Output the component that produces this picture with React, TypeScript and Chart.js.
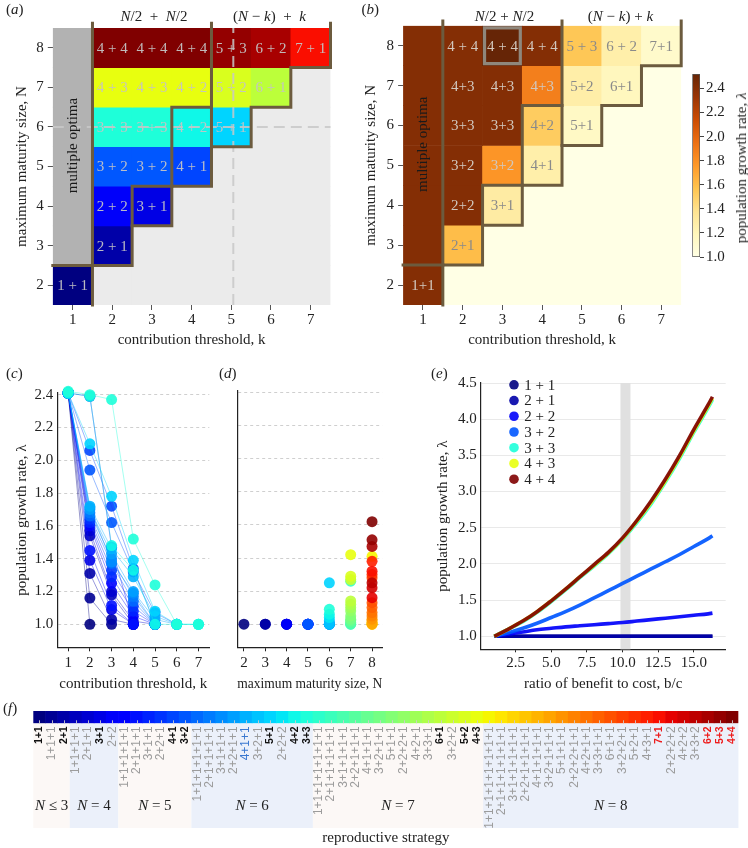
import React, { useEffect, useRef } from 'react';
import { Chart, registerables } from 'chart.js';

Chart.register(...registerables);

const SERIF = "'Liberation Serif', 'Times New Roman', Times, serif";
const SANS = "'Liberation Sans', Arial, Helvetica, sans-serif";
Chart.defaults.font.family = SERIF;
Chart.defaults.color = '#222';

// ---------------- data ----------------
const K_VALUES = [1, 2, 3, 4, 5, 6, 7];
const N_ROWS = [8, 7, 6, 5, 4, 3, 2]; // heatmap rows, top to bottom
const N_TICKS = [2, 3, 4, 5, 6, 7, 8];

const STRATEGIES = [
  '1+1', '1+1+1', '2+1',
  '1+1+1+1', '2+1+1', '3+1', '2+2',
  '1+1+1+1+1', '2+1+1+1', '3+1+1', '2+2+1', '4+1', '3+2',
  '1+1+1+1+1+1', '2+1+1+1+1', '3+1+1+1', '2+2+1+1', '4+1+1', '3+2+1', '5+1', '2+2+2', '4+2', '3+3',
  '1+1+1+1+1+1+1', '2+1+1+1+1+1', '3+1+1+1+1', '2+2+1+1+1', '4+1+1+1', '3+2+1+1', '5+1+1', '2+2+2+1', '4+2+1', '3+3+1', '6+1', '3+2+2', '5+2', '4+3',
  '1+1+1+1+1+1+1+1', '2+1+1+1+1+1+1', '3+1+1+1+1+1', '2+2+1+1+1+1', '4+1+1+1+1', '3+2+1+1+1', '5+1+1+1', '2+2+2+1+1', '4+2+1+1', '3+3+1+1', '6+1+1', '3+2+2+1', '5+2+1', '4+3+1', '7+1', '2+2+2+2', '4+2+2', '3+3+2', '6+2', '5+3', '4+4',
];
const BLACK_LABELS = ['1+1', '2+1', '3+1', '4+1', '3+2', '5+1', '4+2', '3+3', '6+1', '5+2', '4+3'];
const RED_LABELS = ['7+1', '6+2', '5+3', '4+4'];
const BLUE_LABELS = ['4+1+1'];
const GROUP_NAMES = ['≤ 3', '= 4', '= 5', '= 6', '= 7', '= 8'];
const GROUP_SIZES = [3, 4, 6, 10, 14, 21];

// panel (a): strategy used for colour, and the text shown ('M' = multiple optima)
const A_STRATEGY = [
  ['M', '4+4', '4+4', '4+4', '5+3', '6+2', '7+1'],
  ['M', '4+3', '4+3', '4+3', '5+2', '6+1', ''],
  ['M', '3+3', '3+3', '4+2', '5+1', '', ''],
  ['M', '3+2', '3+2', '4+1', '', '', ''],
  ['M', '2+2', '3+1', '', '', '', ''],
  ['M', '2+1', '', '', '', '', ''],
  ['1+1', '', '', '', '', '', ''],
];
const A_LABELS = [
  ['', '4 + 4', '4 + 4', '4 + 4', '5 + 3', '6 + 2', '7 + 1'],
  ['', '4 + 3', '4 + 3', '4 + 2', '5 + 2', '6 + 1', ''],
  ['', '3 + 3', '3 + 3', '4 + 2', '5 + 1', '', ''],
  ['', '3 + 2', '3 + 2', '4 + 1', '', '', ''],
  ['', '2 + 2', '3 + 1', '', '', '', ''],
  ['', '2 + 1', '', '', '', '', ''],
  ['1 + 1', '', '', '', '', '', ''],
];
// panel (b): growth rate per cell
const B_LAMBDA = [
  [2.41, 2.41, 2.52, 2.41, 1.55, 1.27, 1.12],
  [2.41, 2.41, 2.41, 1.88, 1.28, 1.18, 1.0],
  [2.41, 2.41, 2.41, 1.52, 1.15, 1.0, 1.0],
  [2.41, 2.41, 1.78, 1.27, 1.0, 1.0, 1.0],
  [2.41, 2.41, 1.3, 1.0, 1.0, 1.0, 1.0],
  [2.41, 1.6, 1.0, 1.0, 1.0, 1.0, 1.0],
  [2.41, 1.0, 1.0, 1.0, 1.0, 1.0, 1.0],
];
const B_LABELS = [
  ['', '4 + 4', '4 + 4', '4 + 4', '5 + 3', '6 + 2', '7+1'],
  ['', '4+3', '4+3', '4+3', '5+2', '6+1', ''],
  ['', '3+3', '3+3', '4+2', '5+1', '', ''],
  ['', '3+2', '3+2', '4+1', '', '', ''],
  ['', '2+2', '3+1', '', '', '', ''],
  ['', '2+1', '', '', '', '', ''],
  ['1+1', '', '', '', '', '', ''],
];
const LAM_MIN = 1.0;
const LAM_MAX = 2.52;
const CB_TICKS = [1.0, 1.2, 1.4, 1.6, 1.8, 2.0, 2.2, 2.4];
const MULTI_CENTER_N = 5.53;

// region outlines (data coordinates k, N)
const OUTLINES = [
  [[0.5, 2.5], [1.5, 2.5]],
  [[1.5, 8.62], [1.5, 1.5]],
  [[1.5, 2.5], [2.5, 2.5], [2.5, 4.5], [3.5, 4.5], [3.5, 6.5], [4.5, 6.5], [4.5, 8.62]],
  [[2.5, 3.5], [3.5, 3.5], [3.5, 4.5]],
  [[3.5, 4.5], [4.5, 4.5], [4.5, 6.5]],
  [[4.5, 5.5], [5.5, 5.5], [5.5, 6.5], [6.5, 6.5], [6.5, 7.5], [7.5, 7.5], [7.5, 8.62]],
];
const A_DASHES = [
  [[5.05, 1.5], [5.05, 8.5]],
  [[0.5, 6.0], [7.5, 6.0]],
];
const B_HIGHLIGHT = [[2.55, 7.55], [3.45, 7.55], [3.45, 8.45], [2.55, 8.45], [2.55, 7.55]];

// panel (c): growth rate vs contribution threshold for strategies (strategy index, values at k = 1..)
const C_SERIES = [
  { s: 0, lam: [2.41, 1.0] },
  { s: 1, lam: [2.41, 1.16, 1.0] },
  { s: 2, lam: [2.41, 1.31, 1.03, 1.0] },
  { s: 3, lam: [2.41, 1.54, 1.18, 1.0] },
  { s: 4, lam: [2.41, 1.57, 1.2, 1.02, 1.0] },
  { s: 5, lam: [2.41, 1.39, 1.09, 1.0] },
  { s: 6, lam: [2.41, 2.39, 1.47, 1.0] },
  { s: 7, lam: [2.41, 1.6, 1.25, 1.05, 1.0] },
  { s: 8, lam: [2.41, 1.45, 1.115, 1.0] },
  { s: 9, lam: [2.41, 1.62, 1.29, 1.08, 1.0] },
  { s: 10, lam: [2.41, 1.64, 1.33, 1.11, 1.0] },
  { s: 11, lam: [2.41, 2.06, 1.72, 1.34, 1.0] },
  { s: 12, lam: [2.41, 1.94, 1.62, 1.32, 1.07, 1.0] },
  { s: 13, lam: [2.41, 1.66, 1.37, 1.14, 1.0] },
  { s: 14, lam: [2.41, 1.68, 1.4, 1.17, 1.0] },
  { s: 15, lam: [2.41, 1.71, 1.38, 1.19, 1.0] },
  { s: 16, lam: [2.41, 1.7, 1.43, 1.2, 1.03, 1.0] },
  { s: 17, lam: [2.41, 1.72, 1.46, 1.29, 1.05, 1.0] },
  { s: 19, lam: [2.41, 2.1, 1.78, 1.39, 1.08, 1.0, 1.0] },
  { s: 21, lam: [2.41, 2.39, 1.48, 1.33, 1.0, 1.0, 1.0] },
  { s: 22, lam: [2.42, 2.4, 2.37, 1.52, 1.24, 1.0, 1.0] },
];
const C_Y_TICKS = [1.0, 1.2, 1.4, 1.6, 1.8, 2.0, 2.2, 2.4];

// panel (d): growth rate of each strategy (same order as STRATEGIES)
const D_LAMBDA = [
  1.0, 1.0, 1.0,
  1.0, 1.0, 1.0, 1.0,
  1.0, 1.0, 1.0, 1.0, 1.0, 1.0,
  1.0, 1.0, 1.0, 1.0, 1.02, 1.0, 1.25, 1.04, 1.06, 1.09,
  1.0, 1.26, 1.0, 1.01, 1.02, 1.03, 1.05, 1.08, 1.1, 1.12, 1.14, 1.27, 1.29, 1.42,
  1.41, 1.0, 1.0, 1.01, 1.02, 1.0, 1.03, 1.05, 1.07, 1.1, 1.13, 1.28, 1.3, 1.38, 1.32, 1.16, 1.22, 1.25, 1.47, 1.51, 1.62,
];
const D_X_TICKS = [2, 3, 4, 5, 6, 7, 8];

// panel (e): growth rate vs benefit/cost ratio
const E_BC = [1, 2, 3, 4, 5, 6, 7, 8, 9, 10, 11, 12, 13, 14, 15, 16, 16.3];
const E_11 = [1, 1, 1, 1, 1, 1, 1, 1, 1, 1, 1, 1, 1, 1, 1, 1, 1];
const E_21 = [1, 1, 1, 1, 1, 1, 1, 1, 1, 1, 1, 1, 1, 1, 1, 1, 1];
const E_22 = [1.0, 1.03, 1.06, 1.09, 1.11, 1.13, 1.145, 1.16, 1.175, 1.19, 1.21, 1.23, 1.25, 1.27, 1.29, 1.31, 1.32];
const E_32 = [1.0, 1.05, 1.11, 1.18, 1.26, 1.34, 1.43, 1.53, 1.63, 1.73, 1.83, 1.93, 2.03, 2.13, 2.24, 2.35, 2.39];
const E_33 = [1.0, 1.1, 1.2, 1.33, 1.48, 1.64, 1.81, 1.97, 2.14, 2.34, 2.57, 2.83, 3.13, 3.46, 3.82, 4.16, 4.27];
const E_43 = [1.0, 1.1, 1.21, 1.34, 1.49, 1.65, 1.82, 1.98, 2.15, 2.35, 2.59, 2.85, 3.15, 3.48, 3.84, 4.18, 4.29];
const E_44 = [1.0, 1.1, 1.21, 1.34, 1.49, 1.65, 1.82, 1.99, 2.16, 2.36, 2.6, 2.87, 3.17, 3.5, 3.86, 4.2, 4.31];
const E_SERIES = [
  { label: '1 + 1', s: '1+1', values: E_11 },
  { label: '2 + 1', s: '2+1', values: E_21 },
  { label: '2 + 2', s: '2+2', values: E_22 },
  { label: '3 + 2', s: '3+2', values: E_32 },
  { label: '3 + 3', s: '3+3', values: E_33 },
  { label: '4 + 3', s: '4+3', values: E_43 },
  { label: '4 + 4', s: '4+4', values: E_44 },
];
const E_X_TICKS = [2.5, 5.0, 7.5, 10.0, 12.5, 15.0];
const E_Y_TICKS = [1.0, 1.5, 2.0, 2.5, 3.0, 3.5, 4.0, 4.5];
const E_BAND = [9.85, 10.55];

// ---------------- colour helpers ----------------
const JET_R = [[0, 0], [0.35, 0], [0.66, 1], [0.89, 1], [1, 0.5]];
const JET_G = [[0, 0], [0.125, 0], [0.375, 1], [0.64, 1], [0.91, 0], [1, 0]];
const JET_B = [[0, 0.5], [0.11, 1], [0.34, 1], [0.65, 0], [1, 0]];
function interp(pts: number[][], t: number) {
  for (let i = 1; i < pts.length; i++) {
    if (t <= pts[i][0]) {
      const [x0, y0] = pts[i - 1];
      const [x1, y1] = pts[i];
      return y0 + ((y1 - y0) * (t - x0)) / (x1 - x0);
    }
  }
  return pts[pts.length - 1][1];
}
function jet(t: number, a = 1) {
  const r = Math.round(255 * interp(JET_R, t));
  const g = Math.round(255 * interp(JET_G, t));
  const b = Math.round(255 * interp(JET_B, t));
  return `rgba(${r},${g},${b},${a})`;
}
const jetIdx = (i: number, a = 1) => jet(i / (STRATEGIES.length - 1), a);
const jetOf = (s: string, a = 1) => jetIdx(STRATEGIES.indexOf(s), a);

const YLORBR = ['#ffffe5', '#fff7bc', '#fee391', '#fec44f', '#fe9929', '#ec7014', '#cc4c02', '#993404', '#662506'];
function hexRgb(h: string) {
  return [parseInt(h.slice(1, 3), 16), parseInt(h.slice(3, 5), 16), parseInt(h.slice(5, 7), 16)];
}
function ylorbr(lam: number) {
  let t = (lam - LAM_MIN) / (LAM_MAX - LAM_MIN);
  t = Math.max(0, Math.min(1, t));
  const p = t * (YLORBR.length - 1);
  const i = Math.min(Math.floor(p), YLORBR.length - 2);
  const f = p - i;
  const a = hexRgb(YLORBR[i]);
  const b = hexRgb(YLORBR[i + 1]);
  const c = a.map((v, j) => Math.round(v + (b[j] - v) * f));
  return `rgb(${c[0]},${c[1]},${c[2]})`;
}
const sizeOf = (s: string) => s.split('+').reduce((acc, v) => acc + Number(v), 0);

const OUTLINE_COLOR = '#6c5b3e';
const TICK_FONT = { family: SERIF, size: 15 };

// ---------------- chart helpers ----------------
function lineSet(poly: number[][], color: string, width: number, order: number, dash?: number[]) {
  return {
    type: 'line',
    data: poly.map(([x, y]) => ({ x, y })),
    borderColor: color,
    borderWidth: width,
    borderDash: dash || [],
    borderCapStyle: dash ? 'butt' : 'square',
    borderJoinStyle: 'miter',
    pointRadius: 0,
    fill: false,
    tension: 0,
    clip: false,
    order,
  };
}
const fixedTicks = (vals: number[]) => (s: any) => {
  s.ticks = vals.map((v) => ({ value: v }));
};

function heatTextPlugin(labels: string[][], textColor: (r: number, c: number) => string) {
  return {
    id: 'heatText',
    afterDatasetsDraw(chart: any) {
      const { ctx } = chart;
      const xs = chart.scales.x;
      const ys = chart.scales.y;
      ctx.save();
      ctx.font = `15px ${SERIF}`;
      ctx.textAlign = 'center';
      ctx.textBaseline = 'middle';
      labels.forEach((row, r) =>
        row.forEach((txt, c) => {
          if (!txt) return;
          ctx.fillStyle = textColor(r, c);
          ctx.fillText(txt, xs.getPixelForValue(K_VALUES[c]), ys.getPixelForValue(N_ROWS[r]) + 1);
        })
      );
      ctx.fillStyle = '#1a1a1a';
      ctx.translate(xs.getPixelForValue(1), ys.getPixelForValue(MULTI_CENTER_N));
      ctx.rotate(-Math.PI / 2);
      ctx.fillText('multiple optima', 0, 0);
      ctx.restore();
    },
  };
}

function heatmapConfig(p: any) {
  const cellSets = N_ROWS.map((N, r) => ({
    type: 'bar',
    data: K_VALUES.map((k) => ({ x: k, y: [N - 0.5, N + 0.5] })),
    backgroundColor: K_VALUES.map((k, c) => p.colors(r, c)),
    borderWidth: 0,
    grouped: false,
    barPercentage: 1,
    categoryPercentage: 1,
    order: 10,
  }));
  const outlineSets = OUTLINES.map((poly) => lineSet(poly, OUTLINE_COLOR, 3, 0));
  return {
    type: 'bar',
    data: { datasets: [...outlineSets, ...p.extra, ...cellSets] },
    options: {
      responsive: false,
      maintainAspectRatio: false,
      animation: false,
      events: [],
      layout: { padding: p.padding },
      plugins: { legend: { display: false }, tooltip: { enabled: false } },
      scales: {
        x: {
          type: 'linear',
          min: 0.5,
          max: 7.5,
          offset: false,
          afterBuildTicks: fixedTicks(K_VALUES),
          afterFit: (s: any) => {
            s.height = 55;
          },
          ticks: { font: TICK_FONT, color: '#222', padding: 1, callback: (v: any) => String(v) },
          grid: { display: true, drawOnChartArea: false, drawTicks: true, tickLength: 5, color: '#555', offset: false },
          border: { display: false },
          title: { display: true, text: 'contribution threshold, k', font: TICK_FONT, color: '#222', padding: { top: 0, bottom: 11 } },
        },
        y: {
          type: 'linear',
          min: 1.5,
          max: 8.5,
          afterBuildTicks: fixedTicks(N_TICKS),
          afterFit: (s: any) => {
            s.width = p.yWidth;
          },
          ticks: { font: TICK_FONT, color: '#222', padding: 4, callback: (v: any) => String(v) },
          grid: { display: true, drawOnChartArea: false, drawTicks: true, tickLength: 5, color: '#555' },
          border: { display: false },
          title: { display: true, text: 'maximum maturity size, N', font: TICK_FONT, color: '#222', padding: { top: p.yTitlePad, bottom: 0 } },
        },
      },
    },
    plugins: [heatTextPlugin(p.labels, p.textColor)],
  };
}

function configA() {
  return heatmapConfig({
    colors: (r: number, c: number) => {
      const s = A_STRATEGY[r][c];
      if (s === 'M') return '#b2b2b2';
      if (!s) return '#ebebeb';
      return jetOf(s);
    },
    labels: A_LABELS,
    textColor: () => 'rgba(196,196,196,0.95)',
    extra: A_DASHES.map((poly) => lineSet(poly, 'rgba(200,200,200,0.85)', 2, 1, [11, 6])),
    padding: { left: 0, top: 28, right: 43.5, bottom: 0 },
    yWidth: 52.8,
    yTitlePad: 12.7,
  });
}

function configB() {
  return heatmapConfig({
    colors: (r: number, c: number) => ylorbr(B_LAMBDA[r][c]),
    labels: B_LABELS,
    textColor: (r: number, c: number) => (B_LAMBDA[r][c] > 1.7 ? '#d2c8be' : '#8a8a8a'),
    extra: [lineSet(B_HIGHLIGHT, '#8f877c', 3.2, 0)],
    padding: { left: 0, top: 25.8, right: 4.8, bottom: 0 },
    yWidth: 47.1,
    yTitlePad: 6,
  });
}

function configColorbar() {
  return {
    type: 'bar',
    data: {
      labels: ['λ'],
      datasets: [
        {
          data: [[LAM_MIN, LAM_MAX]],
          backgroundColor: (ctx: any) => {
            const chart = ctx.chart;
            const ys = chart.scales && chart.scales.y;
            if (!ys || !chart.chartArea) return YLORBR[0];
            const g = chart.ctx.createLinearGradient(0, ys.getPixelForValue(LAM_MIN), 0, ys.getPixelForValue(LAM_MAX));
            YLORBR.forEach((c, i) => g.addColorStop(i / (YLORBR.length - 1), c));
            return g;
          },
          borderColor: '#555',
          borderWidth: 1,
          borderSkipped: false,
          barPercentage: 1,
          categoryPercentage: 1,
        },
      ],
    },
    options: {
      responsive: false,
      maintainAspectRatio: false,
      animation: false,
      events: [],
      layout: { padding: { left: 8.3, top: 74, right: 0, bottom: 43 } },
      plugins: { legend: { display: false }, tooltip: { enabled: false } },
      scales: {
        x: { display: false },
        y: {
          position: 'right',
          min: LAM_MIN,
          max: LAM_MAX,
          afterBuildTicks: fixedTicks(CB_TICKS),
          afterFit: (s: any) => {
            s.width = 48;
          },
          ticks: { font: TICK_FONT, color: '#222', padding: 2, callback: (v: any) => Number(v).toFixed(1) },
          grid: { display: true, drawOnChartArea: false, drawTicks: true, tickLength: 4, color: '#444' },
          border: { display: false },
        },
      },
    },
  };
}

function configC() {
  return {
    type: 'line',
    data: {
      datasets: C_SERIES.map((ser) => ({
        data: ser.lam.map((v, i) => ({ x: K_VALUES[i], y: v })),
        borderColor: jetIdx(ser.s, 0.45),
        borderWidth: 0.9,
        pointRadius: 5.5,
        pointBackgroundColor: jetIdx(ser.s, 0.9),
        pointBorderWidth: 0,
        fill: false,
        tension: 0,
        clip: false,
        order: -ser.s,
      })),
    },
    options: {
      responsive: false,
      maintainAspectRatio: false,
      animation: false,
      events: [],
      layout: { padding: { left: 0, top: 11, right: 5.7, bottom: 0 } },
      plugins: { legend: { display: false }, tooltip: { enabled: false } },
      scales: {
        x: {
          type: 'linear',
          min: 0.5,
          max: 7.5,
          afterBuildTicks: fixedTicks(K_VALUES),
          afterFit: (s: any) => {
            s.height = 52.7;
          },
          ticks: { font: TICK_FONT, color: '#222', padding: 3, callback: (v: any) => String(v) },
          grid: { display: true, drawOnChartArea: false, drawTicks: true, tickLength: 4, color: '#222' },
          border: { display: true, color: '#222', width: 1.2 },
          title: { display: true, text: 'contribution threshold, k', font: TICK_FONT, color: '#222', padding: { top: 0, bottom: 7 } },
        },
        y: {
          type: 'linear',
          min: 0.86,
          max: 2.41,
          afterBuildTicks: fixedTicks(C_Y_TICKS),
          afterFit: (s: any) => {
            s.width = 57.3;
          },
          ticks: { font: TICK_FONT, color: '#222', padding: 4, callback: (v: any) => Number(v).toFixed(1) },
          grid: { display: true, drawOnChartArea: true, drawTicks: false, color: '#cfcfcf', lineWidth: 1 },
          border: { display: true, color: '#222', width: 1.2, dash: [3, 3] },
          title: { display: true, text: 'population growth rate, λ', font: TICK_FONT, color: '#222', padding: { top: 12.7, bottom: 0 } },
        },
      },
    },
  };
}

function configD() {
  return {
    type: 'scatter',
    data: {
      datasets: [
        {
          data: STRATEGIES.map((s, i) => ({ x: sizeOf(s), y: D_LAMBDA[i] })),
          pointBackgroundColor: STRATEGIES.map((s, i) => jetIdx(i, 0.9)),
          pointBorderWidth: 0,
          pointRadius: 5.5,
          clip: false,
        },
      ],
    },
    options: {
      responsive: false,
      maintainAspectRatio: false,
      animation: false,
      events: [],
      layout: { padding: { left: 0, top: 11, right: 7.7, bottom: 0 } },
      plugins: { legend: { display: false }, tooltip: { enabled: false } },
      scales: {
        x: {
          type: 'linear',
          min: 1.69,
          max: 8.48,
          afterBuildTicks: fixedTicks(D_X_TICKS),
          afterFit: (s: any) => {
            s.height = 52.7;
          },
          ticks: { font: TICK_FONT, color: '#222', padding: 3, callback: (v: any) => String(v) },
          grid: { display: true, drawOnChartArea: false, drawTicks: true, tickLength: 4, color: '#222' },
          border: { display: true, color: '#222', width: 1.2 },
          title: { display: true, text: 'maximum maturity size, N', font: TICK_FONT, color: '#222', padding: { top: 0, bottom: 7 } },
        },
        y: {
          type: 'linear',
          min: 0.86,
          max: 2.41,
          afterBuildTicks: fixedTicks(C_Y_TICKS),
          afterFit: (s: any) => {
            s.width = 22.3;
          },
          ticks: { display: false },
          grid: { display: true, drawOnChartArea: true, drawTicks: false, color: '#cfcfcf', lineWidth: 1 },
          border: { display: true, color: '#222', width: 1.2, dash: [3, 3] },
        },
      },
    },
  };
}

const bandPlugin = {
  id: 'band',
  beforeDatasetsDraw(chart: any) {
    const { ctx, chartArea } = chart;
    const xs = chart.scales.x;
    const x0 = xs.getPixelForValue(E_BAND[0]);
    const x1 = xs.getPixelForValue(E_BAND[1]);
    ctx.save();
    ctx.fillStyle = '#e0e0e0';
    ctx.fillRect(x0, chartArea.top, x1 - x0, chartArea.bottom - chartArea.top);
    ctx.restore();
  },
};
const eLegendPlugin = {
  id: 'eLegend',
  afterDatasetsDraw(chart: any) {
    const { ctx, chartArea } = chart;
    ctx.save();
    ctx.font = `15px ${SERIF}`;
    ctx.textAlign = 'left';
    ctx.textBaseline = 'middle';
    E_SERIES.forEach((ser, i) => {
      const y = chartArea.top + 1.8 + i * 15.73;
      ctx.fillStyle = jetOf(ser.s, 0.9);
      ctx.beginPath();
      ctx.arc(chartArea.left + 33.3, y, 4.8, 0, Math.PI * 2);
      ctx.fill();
      ctx.fillStyle = '#222';
      ctx.fillText(ser.label, chartArea.left + 43.5, y + 1);
    });
    ctx.restore();
  },
};

function configE() {
  return {
    type: 'line',
    data: {
      datasets: E_SERIES.map((ser, i) => ({
        label: ser.label,
        data: ser.values.map((v, j) => ({ x: E_BC[j], y: v })),
        borderColor: jetOf(ser.s, 0.92),
        borderWidth: 3.6,
        pointRadius: 0,
        fill: false,
        tension: 0.35,
        clip: false,
        order: -i,
      })),
    },
    options: {
      responsive: false,
      maintainAspectRatio: false,
      animation: false,
      events: [],
      layout: { padding: { left: 0, top: 11.7, right: 22.3, bottom: 0 } },
      plugins: { legend: { display: false }, tooltip: { enabled: false } },
      scales: {
        x: {
          type: 'linear',
          min: 0.05,
          max: 17.23,
          afterBuildTicks: fixedTicks(E_X_TICKS),
          afterFit: (s: any) => {
            s.height = 50.7;
          },
          ticks: { font: TICK_FONT, color: '#222', padding: 2, callback: (v: any) => Number(v).toFixed(1) },
          grid: { display: true, drawOnChartArea: false, drawTicks: true, tickLength: 3, color: '#222' },
          border: { display: true, color: '#222', width: 1.2 },
          title: { display: true, text: 'ratio of benefit to cost, b/c', font: TICK_FONT, color: '#222', padding: { top: 0, bottom: 7 } },
        },
        y: {
          type: 'linear',
          min: 0.82,
          max: 4.5,
          afterBuildTicks: fixedTicks(E_Y_TICKS),
          afterFit: (s: any) => {
            s.width = 80.7;
          },
          ticks: { font: TICK_FONT, color: '#222', padding: 4, callback: (v: any) => Number(v).toFixed(1) },
          grid: { display: true, drawOnChartArea: true, drawTicks: false, color: '#e9e9e9', lineWidth: 1 },
          border: { display: true, color: '#222', width: 1.2 },
          title: { display: true, text: 'population growth rate, λ', font: TICK_FONT, color: '#222', padding: { top: 33.7, bottom: 0 } },
        },
      },
    },
    plugins: [bandPlugin, eLegendPlugin],
  };
}

const fPlugin = {
  id: 'fDecor',
  beforeDraw(chart: any) {
    const { ctx, chartArea } = chart;
    const step = (chartArea.right - chartArea.left) / STRATEGIES.length;
    let start = 0;
    ctx.save();
    GROUP_SIZES.forEach((n, g) => {
      const x0 = chartArea.left + start * step;
      ctx.fillStyle = g % 2 === 0 ? '#fcf8f6' : '#ebf0fa';
      ctx.fillRect(x0, chartArea.bottom, n * step, 104.7);
      start += n;
    });
    ctx.restore();
  },
  afterDatasetsDraw(chart: any) {
    const { ctx, chartArea } = chart;
    const xs = chart.scales.x;
    ctx.save();
    ctx.strokeStyle = 'rgba(205,205,205,0.9)';
    ctx.lineWidth = 1;
    STRATEGIES.forEach((s, i) => {
      const x = Math.round(xs.getPixelForTick(i)) + 0.5;
      ctx.beginPath();
      ctx.moveTo(x, chartArea.bottom - 3);
      ctx.lineTo(x, chartArea.bottom);
      ctx.stroke();
    });
    ctx.restore();
  },
  afterDraw(chart: any) {
    const { ctx, chartArea } = chart;
    const step = (chartArea.right - chartArea.left) / STRATEGIES.length;
    let start = 0;
    ctx.save();
    ctx.textBaseline = 'middle';
    ctx.fillStyle = '#222';
    GROUP_SIZES.forEach((n, g) => {
      const cx = chartArea.left + (start + n / 2) * step;
      const y = chartArea.bottom + 83;
      ctx.font = `italic 15px ${SERIF}`;
      const wN = ctx.measureText('N').width;
      ctx.font = `15px ${SERIF}`;
      const rest = ' ' + GROUP_NAMES[g];
      const wR = ctx.measureText(rest).width;
      const x0 = cx - (wN + wR) / 2;
      ctx.textAlign = 'left';
      ctx.font = `italic 15px ${SERIF}`;
      ctx.fillText('N', x0, y);
      ctx.font = `15px ${SERIF}`;
      ctx.fillText(rest, x0 + wN, y);
      start += n;
    });
    ctx.restore();
  },
};

function labelColor(s: string) {
  if (RED_LABELS.includes(s)) return '#ee1c1c';
  if (BLUE_LABELS.includes(s)) return '#3a78d0';
  if (BLACK_LABELS.includes(s)) return '#111';
  return '#9c9c9c';
}

function configF() {
  return {
    type: 'bar',
    data: {
      labels: STRATEGIES,
      datasets: [
        {
          data: STRATEGIES.map(() => 1),
          backgroundColor: STRATEGIES.map((s, i) => jetIdx(i)),
          borderWidth: 0,
          barPercentage: 1,
          categoryPercentage: 1,
        },
      ],
    },
    options: {
      responsive: false,
      maintainAspectRatio: false,
      animation: false,
      events: [],
      layout: { padding: { left: 33.3, top: 11, right: 5.7, bottom: 0 } },
      plugins: { legend: { display: false }, tooltip: { enabled: false } },
      scales: {
        x: {
          type: 'category',
          afterFit: (s: any) => {
            s.height = 124.7;
          },
          ticks: {
            autoSkip: false,
            minRotation: 90,
            maxRotation: 90,
            padding: 3,
            font: (c: any) => {
              const s = STRATEGIES[c.index];
              const strong = BLACK_LABELS.includes(s) || RED_LABELS.includes(s);
              return { family: SANS, size: strong ? 10.5 : 12, weight: strong ? 'bold' : 'normal' };
            },
            color: (c: any) => labelColor(STRATEGIES[c.index]),
          },
          grid: { display: false, drawTicks: false },
          border: { display: false },
          title: { display: true, text: 'reproductive strategy', font: TICK_FONT, color: '#222', padding: { top: 0, bottom: 1 } },
        },
        y: { display: false, min: 0, max: 1 },
      },
    },
    plugins: [fPlugin],
  };
}

// ---------------- components ----------------
function ChartCanvas({ left, top, width, height, make }: any) {
  const ref = useRef<HTMLCanvasElement>(null);
  useEffect(() => {
    const chart = new Chart(ref.current as HTMLCanvasElement, make());
    return () => chart.destroy();
  }, []);
  return (
    <canvas
      ref={ref}
      width={width}
      height={height}
      style={{ position: 'absolute', left, top, width, height }}
    />
  );
}

function Txt({ x, y, children, center = false, rotate = false }: any) {
  return (
    <div
      style={{
        position: 'absolute',
        left: x,
        top: y,
        transform: rotate ? 'translate(-50%, -50%) rotate(-90deg)' : center ? 'translate(-50%, -50%)' : 'translate(0, -50%)',
        whiteSpace: 'nowrap',
        fontFamily: SERIF,
        fontSize: 15,
        lineHeight: '18px',
        color: '#222',
      }}
    >
      {children}
    </div>
  );
}

export default function App() {
  return (
    <div style={{ position: 'absolute', left: 0, top: 0, width: 748, height: 848, background: '#fff', overflow: 'hidden' }}>
      <ChartCanvas left={0} top={0} width={374} height={360} make={configA} />
      <ChartCanvas left={356} top={0} width={330} height={360} make={configB} />
      <ChartCanvas left={684} top={0} width={64} height={300} make={configColorbar} />
      <ChartCanvas left={0} top={380} width={215} height={320} make={configC} />
      <ChartCanvas left={215} top={380} width={175} height={320} make={configD} />
      <ChartCanvas left={400} top={370} width={348} height={330} make={configE} />
      <ChartCanvas left={0} top={700} width={748} height={148} make={configF} />

      <Txt x={6} y={9}>(<i>a</i>)</Txt>
      <Txt x={361.5} y={9}>(<i>b</i>)</Txt>
      <Txt x={6} y={373}>(<i>c</i>)</Txt>
      <Txt x={219} y={373}>(<i>d</i>)</Txt>
      <Txt x={431} y={373}>(<i>e</i>)</Txt>
      <Txt x={3} y={708}>(<i>f</i>)</Txt>

      <Txt x={154} y={15.7} center>
        <i>N</i>/2&nbsp;&nbsp;+&nbsp;&nbsp;<i>N</i>/2
      </Txt>
      <Txt x={269.5} y={15.7} center>
        (<i>N</i> − <i>k</i>)&nbsp;&nbsp;+&nbsp;&nbsp;<i>k</i>
      </Txt>
      <Txt x={504.5} y={15.7} center>
        <i>N</i>/2 + <i>N</i>/2
      </Txt>
      <Txt x={620.5} y={15.7} center>
        (<i>N</i> − <i>k</i>) + <i>k</i>
      </Txt>
      <Txt x={740.7} y={167.5} rotate>
        population growth rate, <i>λ</i>
      </Txt>
    </div>
  );
}
